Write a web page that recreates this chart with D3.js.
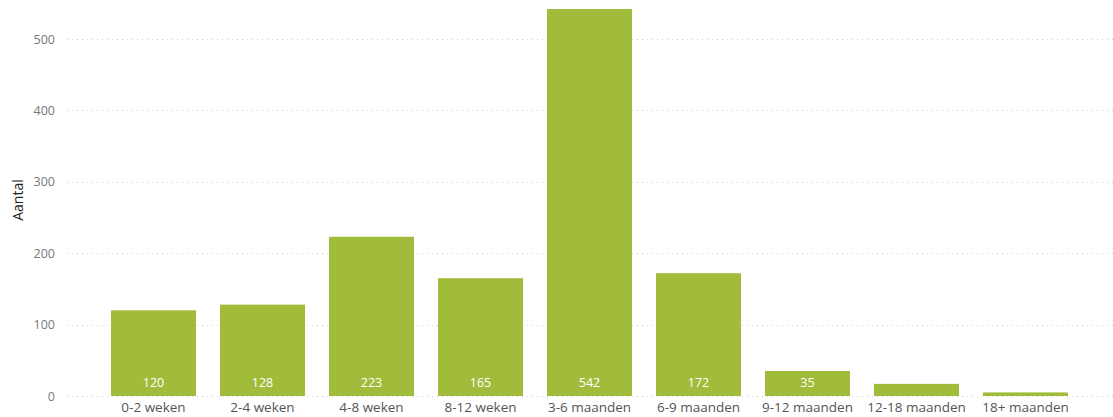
<!DOCTYPE html>
<html>
<head>
<meta charset="utf-8">
<script src="https://cdnjs.cloudflare.com/ajax/libs/d3/7.8.5/d3.min.js"></script>
<style>
  body { margin: 0; background: #fff; }
  svg { display: block; font-family: "Open Sans", "Segoe UI", sans-serif; }
</style>
</head>
<body>
<svg width="1113" height="417"></svg>
<script>
// categories and counts
var categories = ['0-2 weken', '2-4 weken', '4-8 weken', '8-12 weken', '3-6 maanden',
  '6-9 maanden', '9-12 maanden', '12-18 maanden', '18+ maanden'];
var counts = [120, 128, 223, 165, 542, 172, 35, 17, 5];
var showLabel = [true, true, true, true, true, true, true, false, false];
var yTicks = [0, 100, 200, 300, 400, 500];

var svg = d3.select('svg');
var barColor = '#a0bc3a';

var x = d3.scaleBand()
  .domain(categories)
  .range([99, 1080])
  .paddingInner(0.22)
  .paddingOuter(0.11);

var y = d3.scaleLinear()
  .domain([0, 500])
  .range([396, 39]);

// gridlines
svg.selectAll('line.grid')
  .data(yTicks)
  .enter()
  .append('line')
  .attr('class', 'grid')
  .attr('x1', 67)
  .attr('x2', 1113)
  .attr('y1', function(d) { return Math.round(y(d)) + 0.5; })
  .attr('y2', function(d) { return Math.round(y(d)) + 0.5; })
  .style('stroke', '#d0d0d0')
  .style('stroke-width', 1)
  .style('stroke-dasharray', '1,4');

// y axis labels
var yAxis = d3.axisLeft(y).tickValues(yTicks).tickSize(0).tickPadding(0);
var gy = svg.append('g').attr('transform', 'translate(55,0)').call(yAxis);
gy.select('.domain').remove();
gy.selectAll('text')
  .style('font-size', '12.5px')
  .style('fill', '#777')
  .style('font-family', '"Open Sans", sans-serif');

svg.append('text')
  .attr('transform', 'translate(23,200) rotate(-90)')
  .attr('text-anchor', 'middle')
  .style('font-size', '14px')
  .style('fill', '#222')
  .text('Aantal');

// bars
svg.selectAll('rect.bar')
  .data(counts)
  .enter()
  .append('rect')
  .attr('class', 'bar')
  .attr('x', function(d, i) { return x(categories[i]); })
  .attr('width', x.bandwidth())
  .attr('y', function(d) { return y(d); })
  .attr('height', function(d) { return y(0) - y(d); })
  .style('fill', barColor);

// value labels
svg.selectAll('text.val')
  .data(counts)
  .enter()
  .filter(function(d, i) { return showLabel[i]; })
  .append('text')
  .attr('class', 'val')
  .attr('x', function(d, i) { return x(categories[i]) + x.bandwidth() / 2; })
  .attr('y', 387)
  .attr('text-anchor', 'middle')
  .style('font-size', '12.5px')
  .style('fill', '#fff')
  .text(function(d) { return d; });

// x axis labels
var xAxis = d3.axisBottom(x).tickSize(0).tickPadding(0);
var gx = svg.append('g').attr('transform', 'translate(0,402)').call(xAxis);
gx.select('.domain').remove();
gx.selectAll('text')
  .style('font-size', '13.5px')
  .style('fill', '#555')
  .style('font-family', '"Open Sans", sans-serif');
</script>
</body>
</html>
